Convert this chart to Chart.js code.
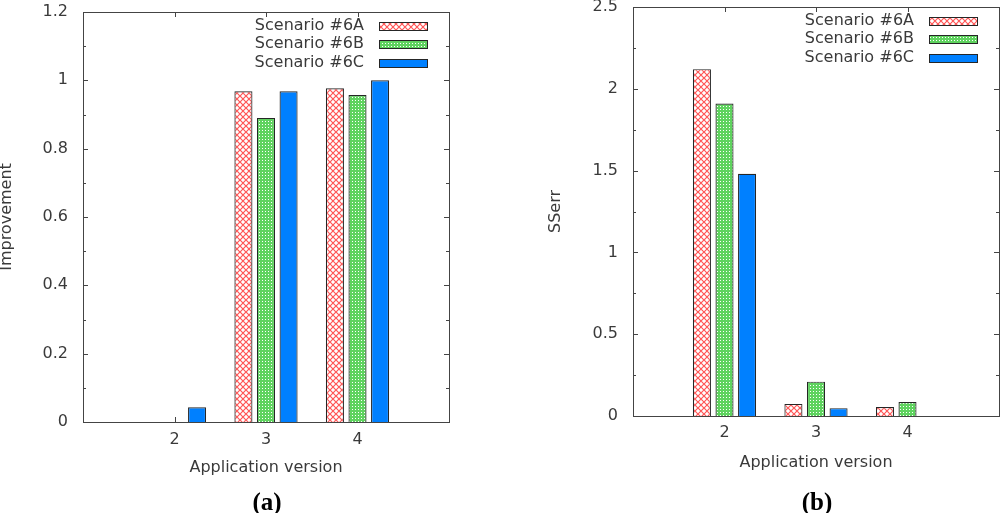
<!DOCTYPE html>
<html lang="en">
<head>
  <meta charset="utf-8">
  <title>Improvement and SSerr per application version</title>
  <style type="text/css">
    body {
      margin: 0;
      background-color: #ffffff;
    }
    #wrap {
      position: relative;
      width: 1000px;
      height: 513px;
      overflow: hidden;
    }
    .box {
      position: absolute;
      top: 0;
      width: 500px;
      height: 513px;
    }
    .cap {
      position: absolute;
      top: 488px;
      width: 60px;
      margin-left: -30px;
      text-align: center;
      font-family: 'Liberation Serif', serif;
      font-weight: bold;
      font-size: 25px;
      line-height: 28px;
      color: #000;
    }
  </style>
  <script src="https://cdn.jsdelivr.net/npm/chart.js@4.4.1/dist/chart.umd.min.js"></script>
</head>
<body>
  <div id="wrap">
    <div class="box" style="left:0px;"><canvas id="chartA"></canvas></div>
    <div class="box" style="left:500px;"><canvas id="chartB"></canvas></div>
    <div class="cap" style="left:267px;">(a)</div>
    <div class="cap" style="left:817px;">(b)</div>
  </div>
  <script>
    // data
    const versions = ['1', '2', '3', '4', '5'];   // 1 and 5 are only padding slots
    const seriesNames = ['Scenario #6A', 'Scenario #6B', 'Scenario #6C'];
    const improve6A = [null, 0, 0.968, 0.977, null];
    const improve6B = [null, 0, 0.890, 0.957, null];
    const improve6C = [null, 0.043, 0.968, 1.0, null];
    const sserr6A = [null, 2.12, 0.074, 0.055, null];
    const sserr6B = [null, 1.91, 0.21, 0.085, null];
    const sserr6C = [null, 1.48, 0.048, 0, null];

    Chart.defaults.font.family = "'DejaVu Sans', sans-serif";
    Chart.defaults.font.size = 16;
    Chart.defaults.color = '#3a3a3a';

    function makePattern(kind) {
      var c = document.createElement('canvas');
      var g = c.getContext('2d');
      if (kind === 'cross') {
        c.width = 6; c.height = 6;
        g.fillStyle = '#ffffff';
        g.fillRect(0, 0, 6, 6);
        g.strokeStyle = '#ff5555';
        g.lineWidth = 1.2;
        g.beginPath();
        g.moveTo(-1, -1); g.lineTo(7, 7);
        g.moveTo(7, -1); g.lineTo(-1, 7);
        g.stroke();
      } else {
        c.width = 3; c.height = 3;
        g.fillStyle = '#5fd35f';
        g.fillRect(0, 0, 3, 3);
        g.fillStyle = '#ffffff';
        g.fillRect(1, 1, 1, 1);
      }
      return g.createPattern(c, 'repeat');
    }
    const fills = [makePattern('cross'), makePattern('dots'), '#0080ff'];
    const edge = '#262626';

    function fmt(v) {
      return String(Number(v.toFixed(2)));
    }

    function noPad(s) {
      s.paddingTop = 0;
      s.paddingBottom = 0;
      s.paddingLeft = 0;
      s.paddingRight = 0;
    }

    // gnuplot-like frame, inward ticks and key
    var framePlugin = {
      id: 'frame',
      beforeDatasetsDraw: function (chart) {
        var ctx = chart.ctx;
        var a = chart.chartArea;
        var ys = chart.scales.y;
        var xs = chart.scales.x;
        ctx.save();
        ctx.strokeStyle = '#444';
        ctx.lineWidth = 1;
        ctx.beginPath();
        ys.ticks.forEach(function (t) {
          var py = Math.round(ys.getPixelForValue(t.value)) + 0.5;
          var len = t.label !== '' ? 5 : 3;
          ctx.moveTo(a.left, py); ctx.lineTo(a.left + len, py);
          ctx.moveTo(a.right, py); ctx.lineTo(a.right - len, py);
        });
        xs.ticks.forEach(function (t, i) {
          if (t.label === '') return;
          var px = Math.round(xs.getPixelForValue(i)) + 0.5;
          ctx.moveTo(px, a.bottom); ctx.lineTo(px, a.bottom - 5);
          ctx.moveTo(px, a.top); ctx.lineTo(px, a.top + 5);
        });
        ctx.stroke();
        ctx.restore();
      },
      afterDatasetsDraw: function (chart) {
        var ctx = chart.ctx;
        var a = chart.chartArea;
        ctx.save();
        ctx.strokeStyle = '#444';
        ctx.lineWidth = 1;
        ctx.strokeRect(Math.round(a.left) + 0.5, Math.round(a.top) + 0.5,
          Math.round(a.right - a.left), Math.round(a.bottom - a.top));
        // key
        ctx.font = "16px 'DejaVu Sans', sans-serif";
        ctx.textAlign = 'right';
        ctx.textBaseline = 'middle';
        chart.data.datasets.forEach(function (ds, i) {
          var cy = a.top + 13.5 + i * 18.6;
          ctx.fillStyle = '#3a3a3a';
          ctx.fillText(ds.label, a.right - 85, cy);
          var x0 = Math.round(a.right - 70);
          var y0 = Math.round(cy - 4);
          ctx.fillStyle = ds.backgroundColor;
          ctx.fillRect(x0, y0, 48, 8);
          ctx.strokeStyle = edge;
          ctx.strokeRect(x0 + 0.5, y0 + 0.5, 48, 8);
        });
        ctx.restore();
      }
    };

    function build(id, sets, opt) {
      var datasets = sets.map(function (vals, i) {
        return {
          label: seriesNames[i],
          data: vals,
          backgroundColor: fills[i],
          borderColor: edge,
          borderWidth: 1.2,
          borderSkipped: 'bottom',
          categoryPercentage: 0.74,
          barPercentage: 0.8
        };
      });
      return new Chart(document.getElementById(id), {
        type: 'bar',
        data: { labels: versions, datasets: datasets },
        options: {
          responsive: true,
          maintainAspectRatio: false,
          animation: false,
          layout: { padding: opt.pad },
          plugins: { legend: { display: false }, tooltip: { enabled: false } },
          scales: {
            x: {
              offset: false,
              grid: { display: false, drawTicks: false },
              border: { display: false },
              ticks: {
                autoSkip: false,
                maxRotation: 0,
                padding: opt.xTickPad,
                callback: function (v, i) {
                  return (i === 0 || i === versions.length - 1) ? '' : versions[i];
                }
              },
              title: {
                display: true,
                text: 'Application version',
                font: { size: 16 },
                padding: { top: 0, bottom: opt.xTitlePad }
              },
              afterFit: function (s) { s.height = opt.xHeight; noPad(s); }
            },
            y: {
              min: 0,
              max: opt.max,
              grid: { display: false, drawTicks: false },
              border: { display: false },
              ticks: {
                stepSize: opt.step,
                autoSkip: false,
                padding: 15,
                callback: function (v, i) {
                  return i % 2 === 0 ? fmt(v) : '';
                }
              },
              title: {
                display: true,
                text: opt.yTitle,
                font: { size: 16, lineHeight: 1 },
                padding: { top: opt.yTitlePad, bottom: 0 }
              },
              afterFit: function (s) { s.width = opt.yWidth; noPad(s); }
            }
          }
        },
        plugins: [framePlugin]
      });
    }

    build('chartA', [improve6A, improve6B, improve6C], {
      pad: { left: 0, right: 51, top: 12, bottom: 0 },
      xHeight: 91, xTickPad: 8, xTitlePad: 36,
      yWidth: 83, yTitle: 'Improvement', yTitlePad: -1,
      max: 1.2, step: 0.1
    });
    build('chartB', [sserr6A, sserr6B, sserr6C], {
      pad: { left: 0, right: 1, top: 7, bottom: 0 },
      xHeight: 97, xTickPad: 7, xTitlePad: 41,
      yWidth: 133, yTitle: 'SSerr', yTitlePad: 48,
      max: 2.5, step: 0.25
    });
  </script>
</body>
</html>
